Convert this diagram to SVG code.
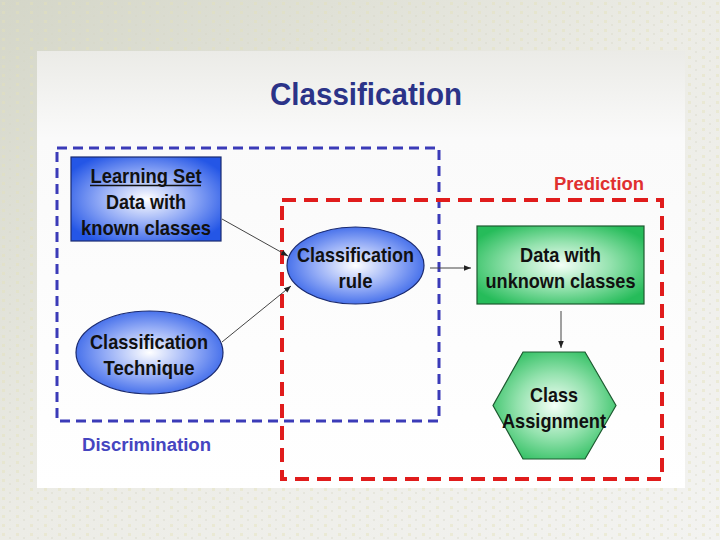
<svg xmlns="http://www.w3.org/2000/svg" width="720" height="540" viewBox="0 0 720 540">
<defs>
<linearGradient id="bg" x1="0" y1="0" x2="1" y2="1">
<stop offset="0" stop-color="#d4d6c8"/>
<stop offset="0.5" stop-color="#ecece6"/>
<stop offset="1" stop-color="#f3f3f1"/>
</linearGradient>
<linearGradient id="slide" x1="0" y1="0" x2="0" y2="1">
<stop offset="0" stop-color="#ebebe7"/>
<stop offset="0.2" stop-color="#fafafa"/>
<stop offset="1" stop-color="#ffffff"/>
</linearGradient>
<pattern id="dots" width="14" height="9" patternUnits="userSpaceOnUse">
<rect x="2" y="2" width="3" height="3" fill="#e4e2b8" opacity="0.7"/>
<rect x="9" y="6" width="2" height="2" fill="#d6d6c4" opacity="0.6"/>
</pattern>
<radialGradient id="blue" cx="0.5" cy="0.5" r="0.6">
<stop offset="0" stop-color="#ffffff"/>
<stop offset="0.5" stop-color="#94acf6"/>
<stop offset="1" stop-color="#2456e6"/>
</radialGradient>
<radialGradient id="green" cx="0.5" cy="0.5" r="0.6">
<stop offset="0" stop-color="#f4fff7"/>
<stop offset="0.5" stop-color="#94e2ae"/>
<stop offset="1" stop-color="#26bc5a"/>
</radialGradient>
<marker id="ah" viewBox="0 0 10 10" refX="10" refY="5" markerWidth="7" markerHeight="7" orient="auto">
<path d="M0,1 L10,5 L0,9 z" fill="#222"/>
</marker>
<style>
.node{font-family:"Liberation Sans",Arial,sans-serif;font-weight:bold;font-size:21px;fill:#111;text-anchor:middle}
.conn{stroke:#444;stroke-width:1;fill:none;marker-end:url(#ah)}
.lbl{font-family:"Liberation Sans",Arial,sans-serif;font-weight:bold;font-size:18px}
</style>
</defs>
<rect width="720" height="540" fill="url(#bg)"/>
<rect width="720" height="540" fill="url(#dots)" opacity="0.6"/>
<rect x="37" y="51" width="648" height="437" fill="url(#slide)"/>
<text x="366" y="105" font-family="Liberation Sans,Arial,sans-serif" font-weight="bold" font-size="32" fill="#2b3388" text-anchor="middle" textLength="192" lengthAdjust="spacingAndGlyphs">Classification</text>

<g id="discrimination">
<rect x="57" y="148" width="382" height="273" fill="none" stroke="#3b3bb8" stroke-width="3" stroke-dasharray="10 6"/>
<text class="lbl" x="82" y="451" fill="#4545c0" textLength="129" lengthAdjust="spacingAndGlyphs">Discrimination</text>
</g>
<g id="prediction">
<rect x="282" y="200" width="380" height="279" fill="none" stroke="#e01c1c" stroke-width="4" stroke-dasharray="14 8"/>
<text class="lbl" x="554" y="190" fill="#e03030" textLength="90" lengthAdjust="spacingAndGlyphs">Prediction</text>
</g>

<g id="learning-set">
<rect x="71" y="157" width="150" height="84" fill="url(#blue)" stroke="#1a2a70" stroke-width="1.2"/>
<text class="node" x="146" y="183" textLength="111" lengthAdjust="spacingAndGlyphs">Learning Set</text>
<line x1="90" y1="185.5" x2="201" y2="185.5" stroke="#111" stroke-width="1.4"/>
<text class="node" x="146" y="209" textLength="80" lengthAdjust="spacingAndGlyphs">Data with</text>
<text class="node" x="146" y="235" textLength="130" lengthAdjust="spacingAndGlyphs">known classes</text>
</g>

<g id="classification-rule">
<ellipse cx="355.5" cy="265.5" rx="68.5" ry="38.5" fill="url(#blue)" stroke="#1a2a70" stroke-width="1.2"/>
<text class="node" x="355.5" y="262" textLength="117" lengthAdjust="spacingAndGlyphs">Classification</text>
<text class="node" x="355.5" y="288" textLength="34" lengthAdjust="spacingAndGlyphs">rule</text>
</g>

<g id="classification-technique">
<ellipse cx="149.5" cy="352.5" rx="73.5" ry="41.5" fill="url(#blue)" stroke="#1a2a70" stroke-width="1.2"/>
<text class="node" x="149" y="349" textLength="118" lengthAdjust="spacingAndGlyphs">Classification</text>
<text class="node" x="149" y="375" textLength="91" lengthAdjust="spacingAndGlyphs">Technique</text>
</g>

<g id="unknown-data">
<rect x="477" y="226" width="167" height="78" fill="url(#green)" stroke="#1d5a30" stroke-width="1.2"/>
<text class="node" x="560.5" y="262" textLength="81" lengthAdjust="spacingAndGlyphs">Data with</text>
<text class="node" x="560.5" y="288" textLength="150" lengthAdjust="spacingAndGlyphs">unknown classes</text>
</g>

<g id="class-assignment">
<polygon points="523,352 585,352 616,405.5 585,459 523,459 493,405.5" fill="url(#green)" stroke="#1d5a30" stroke-width="1.2"/>
<text class="node" x="554" y="402" textLength="48" lengthAdjust="spacingAndGlyphs">Class</text>
<text class="node" x="554" y="428" textLength="104" lengthAdjust="spacingAndGlyphs">Assignment</text>
</g>

<g id="connectors">
<line class="conn" x1="222" y1="219" x2="288" y2="256"/>
<line class="conn" x1="222" y1="342" x2="291" y2="286"/>
<line class="conn" x1="430" y1="268" x2="471" y2="268"/>
<line class="conn" x1="561" y1="311" x2="561" y2="348"/>
</g>
</svg>
